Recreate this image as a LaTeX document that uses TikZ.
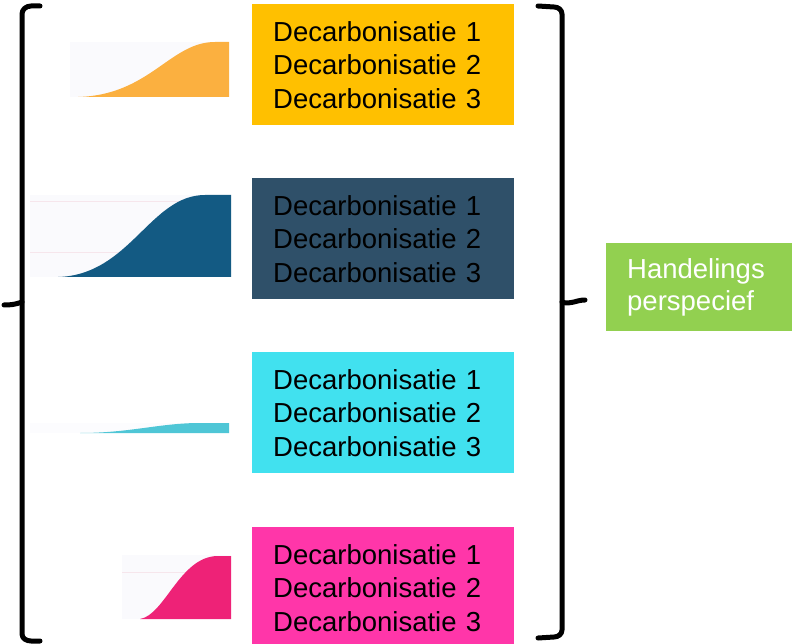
\documentclass[tikz,border=0pt]{standalone}
\usepackage{fontspec}
\setmainfont{Liberation Sans}
\definecolor{cOrange}{HTML}{FFC000}
\definecolor{cDark}{HTML}{2F5069}
\definecolor{cCyan}{HTML}{41E1EF}
\definecolor{cMagenta}{HTML}{FF36A9}
\definecolor{cGreen}{HTML}{92D050}
\definecolor{gOrange}{HTML}{FBB040}
\definecolor{gBlue}{HTML}{135A83}
\definecolor{gCyan}{HTML}{4FC6D6}
\definecolor{gMagenta}{HTML}{EE2277}
\definecolor{gBg}{HTML}{FAFAFD}
\definecolor{gBgLight}{HTML}{FCFCFE}
\definecolor{gLine}{HTML}{F6E6EC}
\tikzset{
  decbox/.style={anchor=north west, minimum width=262pt, minimum height=121pt,
    text width=220pt, inner xsep=21pt, inner ysep=0pt, align=left,
    font=\fontsize{27.5}{33.5}\selectfont, text=black},
  actbox/.style={anchor=north west, minimum width=186pt, minimum height=88pt,
    text width=144pt, inner xsep=21pt, inner ysep=0pt, align=left, fill=cGreen,
    font=\fontsize{27.5}{32}\selectfont, text=white},
  bracestroke/.style={draw=black, line width=5pt, line cap=round, line join=round},
  chartbg/.style={fill=gBg},
  gridline/.style={draw=gLine, line width=0.8pt}
}
\begin{document}
\begin{tikzpicture}[x=1pt, y=-1pt]
\useasboundingbox (0,0) rectangle (792,644);

% chart thumbnails
\fill[chartbg] (70,42) rectangle (229,97);
\fill[gOrange] (78,97) .. controls (150,95) and (170,42) .. (215,42) -- (229,42) -- (229,97) -- cycle;

\fill[chartbg] (30,195) rectangle (231,277);
\draw[gridline] (30,201) -- (231,201);
\draw[gridline] (30,252) -- (231,252);
\fill[gBlue] (58,277) .. controls (130,275) and (150,195) .. (205,195) -- (231,195) -- (231,277) -- cycle;

\fill[gBgLight] (30,423) rectangle (229,433);
\fill[gCyan] (80,433) .. controls (130,433) and (160,423) .. (200,423) -- (229,423) -- (229,433) -- cycle;

\fill[chartbg] (122,555) rectangle (231,619);
\draw[gridline] (122,572) -- (231,572);
\fill[gMagenta] (140,619) .. controls (165,615) and (180,556) .. (218,556) -- (231,556) -- (231,619) -- cycle;

% boxes
\node[decbox, fill=cOrange] (b1) at (252,4) {Decarbonisatie 1\\Decarbonisatie 2\\Decarbonisatie 3};
\node[decbox, fill=cDark] (b2) at (252,178) {Decarbonisatie 1\\Decarbonisatie 2\\Decarbonisatie 3};
\node[decbox, fill=cCyan] (b3) at (252,352) {Decarbonisatie 1\\Decarbonisatie 2\\Decarbonisatie 3};
\node[decbox, fill=cMagenta] (b4) at (252,527) {Decarbonisatie 1\\Decarbonisatie 2\\Decarbonisatie 3};
\node[actbox] (act) at (606,243) {Handelings\\perspecief};

% left brace
\draw[bracestroke] (40,6) -- (31,6) to[out=180,in=90] (22,14) -- (22,634) to[out=-90,in=180] (31,641) -- (40,641);
\draw[bracestroke] (22,302) to[out=-160,in=0] (4,305);

% right brace
\draw[bracestroke] (538,6) -- (554,7) to[out=0,in=90] (562,14) -- (562,630) to[out=-90,in=0] (554,637) -- (538,638);
\draw[bracestroke] (562,302) to[out=-20,in=180] (585,300);
\end{tikzpicture}
\end{document}
